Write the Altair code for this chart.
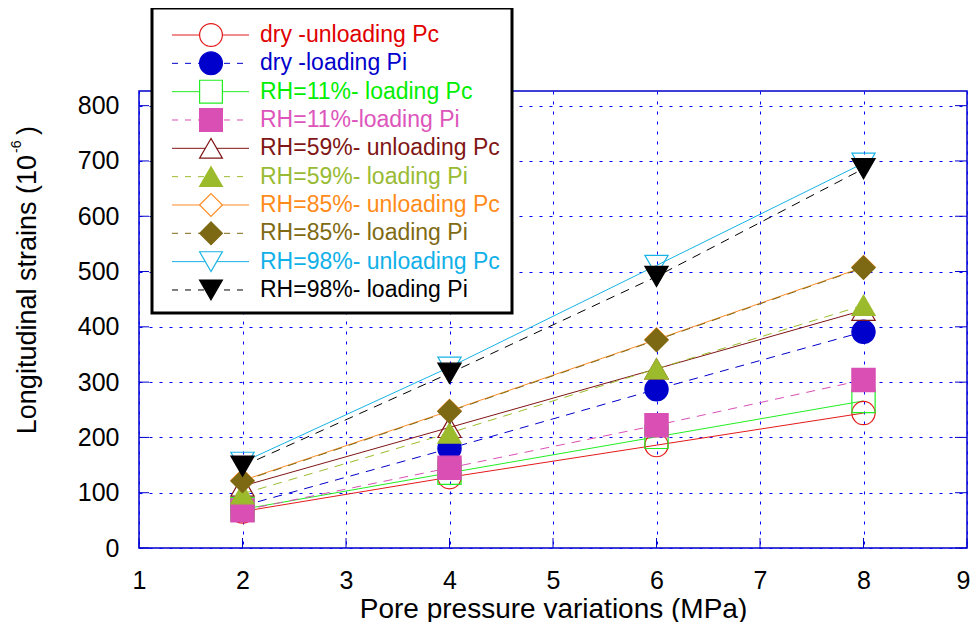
import altair as alt
import pandas as pd

# ---------------- data ----------------
pressure = [2, 4, 6, 8]

series_names = [
    "dry -unloading Pc",
    "dry -loading Pi",
    "RH=11%- loading Pc",
    "\u00a0RH=11%-loading Pi",
    "RH=59%- unloading Pc",
    "RH=59%- loading Pi",
    "RH=85%- unloading Pc",
    "RH=85%- loading Pi",
    "RH=98%- unloading Pc",
    "RH=98%- loading Pi",
]

dry_unloading_pc = [66, 128, 186, 244]
dry_loading_pi = [76, 180, 287, 391]
rh11_loading_pc = [70, 136, 201, 266]
rh11_loading_pi = [68, 145, 222, 304]
rh59_unloading_pc = [112, 218, 324, 430]
rh59_loading_pi = [98, 208, 324, 439]
rh85_unloading_pc = [122, 248, 377, 508]
rh85_loading_pi = [121, 247, 376, 507]
rh98_unloading_pc = [155, 327, 511, 696]
rh98_loading_pi = [148, 316, 491, 686]

series_values = [
    dry_unloading_pc, dry_loading_pi, rh11_loading_pc, rh11_loading_pi,
    rh59_unloading_pc, rh59_loading_pi, rh85_unloading_pc, rh85_loading_pi,
    rh98_unloading_pc, rh98_loading_pi,
]

line_colors = ["#E41A1A", "#0000CC", "#22EE22", "#D94FB4", "#7F1515",
               "#9CBB2C", "#FF8C28", "#7D6914", "#18B2E6", "#000000"]
text_colors = ["#E00000", "#0000CC", "#00EE00", "#DD55BB", "#7F1515",
               "#99BB33", "#FF8C1A", "#806A14", "#10B0E8", "#000000"]
shapes = ["circle", "circle", "square", "square", "triangle-up", "triangle-up",
          "diamond", "diamond", "triangle-down", "triangle-down"]
filled = [False, True, False, True, False, True, False, True, False, True]
dashed = [False, True, False, True, False, True, False, True, False, True]

x_ticks = [1, 2, 3, 4, 5, 6, 7, 8, 9]
y_ticks = [0, 100, 200, 300, 400, 500, 600, 700, 800]

# ---------------- tables ----------------
rows = []
for i, (name, vals) in enumerate(zip(series_names, series_values)):
    for xv, yv in zip(pressure, vals):
        rows.append({
            "series": name, "order": i, "x": xv, "y": yv,
            "color": line_colors[i], "shape": shapes[i],
            "fillc": line_colors[i] if filled[i] else "transparent",
            "dashed": dashed[i],
        })
df = pd.DataFrame(rows)

leg = pd.DataFrame({
    "idx": list(range(len(series_names))),
    "label": series_names,
    "color": line_colors,
    "tc": text_colors,
    "shape": shapes,
    "fillc": [c if f else "white" for c, f in zip(line_colors, filled)],
    "dashed": dashed,
})
leg["py"] = -56 + leg["idx"] * 28.33

W, H = 828, 457
FONT = "Liberation Sans"
BLUE = "#0000CC"

xscale = alt.Scale(domain=[1, 9], nice=False, zero=False)
yscale = alt.Scale(domain=[0, 826.5], nice=False, zero=False)

X = alt.X("x:Q", scale=xscale, axis=alt.Axis(
    values=x_ticks, title="Pore pressure variations (MPa)", grid=True,
    gridColor="#0000FF", gridDash=[3, 7], gridWidth=1, domain=False,
    ticks=False, tickSize=0, labelFontSize=25, labelFont=FONT,
    labelColor="black", labelPadding=20, labelFlush=False,
    labelOffset={"condition": {"test": "datum.value == 9", "value": -4}, "value": 0},
    titleFontSize=28, titleFont=FONT, titleFontWeight="normal",
    titleColor="black", titlePadding=2))
Y = alt.Y("y:Q", scale=yscale, axis=alt.Axis(
    values=y_ticks, title=None, grid=True, gridColor="#0000FF",
    gridDash=[3, 7], gridWidth=1, domain=False, ticks=False, tickSize=0,
    labelFontSize=25, labelFont=FONT, labelColor="black", labelPadding=20,
    labelFlush=False))

base = alt.Chart(df)
color_enc = alt.Color("series:N", scale=alt.Scale(domain=series_names, range=line_colors), legend=None)

lines_solid = base.transform_filter("!datum.dashed").mark_line(strokeWidth=1).encode(
    x=X, y=Y, color=color_enc, order="x:Q")
lines_dashed = base.transform_filter("datum.dashed").mark_line(strokeWidth=1, strokeDash=[9, 7]).encode(
    x=X, y=Y, color=color_enc, order="x:Q")

points = base.mark_point(size=540, opacity=1, strokeWidth=1.2).encode(
    x=X, y=Y,
    shape=alt.Shape("shape:N", scale=None),
    stroke=alt.Stroke("color:N", scale=None),
    fill=alt.Fill("fillc:N", scale=None),
)

# inward ticks along the frame
ytk = pd.DataFrame({"y": y_ticks})
xtk = pd.DataFrame({"x": x_ticks})
ytick_l = alt.Chart(ytk).mark_rule(color=BLUE, strokeWidth=1).encode(
    y=Y, x=alt.value(0), x2=alt.value(10))
ytick_r = alt.Chart(ytk).mark_rule(color=BLUE, strokeWidth=1).encode(
    y=Y, x=alt.value(W - 12), x2=alt.value(W))
xtick_b = alt.Chart(xtk).mark_rule(color=BLUE, strokeWidth=1).encode(
    x=X, y=alt.value(H), y2=alt.value(H - 10))

# y axis title (with superscript)
ytitle_main = alt.Chart(pd.DataFrame({"t": ["Longitudinal strains (10"]})).mark_text(
    angle=270, align="right", baseline="alphabetic", fontSize=27, font=FONT, color="black"
).encode(text="t:N", x=alt.value(-103), y=alt.value(64))
ytitle_sup = alt.Chart(pd.DataFrame({"t": ["-6"]})).mark_text(
    angle=270, align="left", baseline="alphabetic", fontSize=14, font=FONT, color="black"
).encode(text="t:N", x=alt.value(-118), y=alt.value(62))
ytitle_end = alt.Chart(pd.DataFrame({"t": [")"]})).mark_text(
    angle=270, align="left", baseline="alphabetic", fontSize=27, font=FONT, color="black"
).encode(text="t:N", x=alt.value(-103), y=alt.value(44))

# legend box
legbox = alt.Chart(pd.DataFrame({"a": [0]})).mark_rect(
    fill="white", stroke="black", strokeWidth=3
).encode(x=alt.value(13), x2=alt.value(373), y=alt.value(-83), y2=alt.value(222))

legbase = alt.Chart(leg)
leg_ly = alt.Y("py:Q", scale=None)
leg_solid = legbase.transform_filter("!datum.dashed").mark_rule(strokeWidth=1).encode(
    y=leg_ly, x=alt.value(33), x2=alt.value(110), color=alt.Color("color:N", scale=None))
leg_dashed = legbase.transform_filter("datum.dashed").mark_rule(strokeWidth=1, strokeDash=[6, 7]).encode(
    y=leg_ly, x=alt.value(33), x2=alt.value(110), color=alt.Color("color:N", scale=None))
leg_pts = legbase.mark_point(size=520, opacity=1, strokeWidth=1.2).encode(
    y=leg_ly, x=alt.value(72),
    shape=alt.Shape("shape:N", scale=None),
    stroke=alt.Stroke("color:N", scale=None),
    fill=alt.Fill("fillc:N", scale=None))
leg_txt = legbase.mark_text(align="left", baseline="middle", fontSize=23, font=FONT).encode(
    y=leg_ly, x=alt.value(121), text="label:N", fill=alt.Fill("tc:N", scale=None))

chart = alt.layer(
    lines_solid, lines_dashed, points, ytick_l, ytick_r, xtick_b,
    ytitle_main, ytitle_sup, ytitle_end,
    legbox, leg_solid, leg_dashed, leg_pts, leg_txt,
).properties(
    width=W, height=H, background="white",
    autosize=alt.AutoSizeParams(type="none"),
    padding={"left": 131, "top": 83, "right": 3, "bottom": 74},
).configure_view(stroke=BLUE, strokeWidth=1.5)

chart.save("out.html", embed_options={"renderer": "svg", "actions": False})
